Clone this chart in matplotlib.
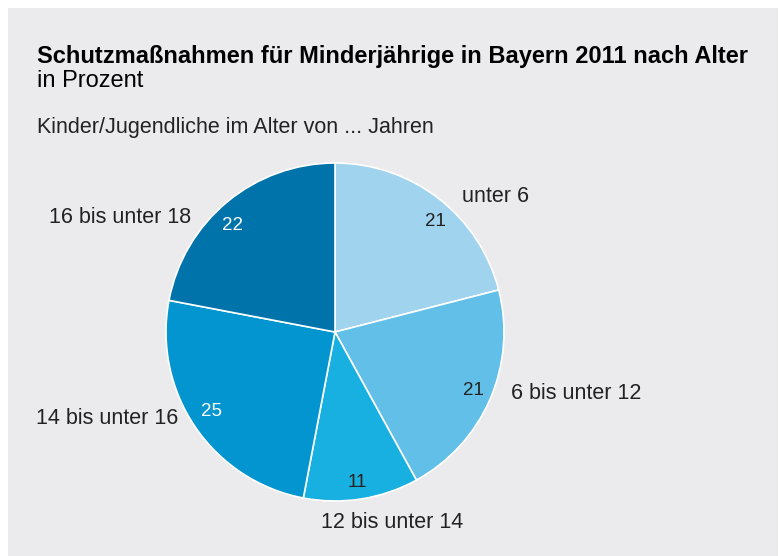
import matplotlib.pyplot as plt
from matplotlib.patches import Rectangle

categories = ["unter 6", "6 bis unter 12", "12 bis unter 14", "14 bis unter 16", "16 bis unter 18"]
values = [21, 21, 11, 25, 22]
colors = ["#9fd3ee", "#62bfe7", "#17b0e0", "#0295cf", "#0073aa"]
pct_colors = ["#222222", "#222222", "#222222", "white", "white"]

# label positions in pie units (radius = 1)
label_pos = [(0.947, 0.80), (1.426, -0.361), (0.337, -1.13), (-1.349, -0.509), (-1.272, 0.680)]
value_pos = [(0.592, 0.651), (0.817, -0.349), (0.130, -0.888), (-0.728, -0.473), (-0.609, 0.633)]

W, H = 779, 556
plt.rcParams["font.family"] = ["Liberation Sans", "DejaVu Sans"]

fig = plt.figure(figsize=(W / 100, H / 100), dpi=100)
fig.patch.set_facecolor("white")
bg = Rectangle((8 / W, 0), 1 - 9 / W, 1 - 8 / H, transform=fig.transFigure,
               facecolor="#ebebed", edgecolor="none", zorder=-10)
fig.add_artist(bg)

fig.text(37 / W, 1 - 56 / H, "Schutzmaßnahmen für Minderjährige in Bayern 2011 nach Alter",
         fontsize=17, fontweight="bold", color="black", va="center", ha="left")
fig.text(37 / W, 1 - 81 / H, "in Prozent", fontsize=17, color="black", va="center", ha="left")
fig.text(37 / W, 1 - 128 / H, "Kinder/Jugendliche im Alter von ... Jahren",
         fontsize=15.5, color="#222222", va="center", ha="left")

cx, cy, r = 335, 332, 169
ax = fig.add_axes([(cx - r) / W, (H - cy - r) / H, 2 * r / W, 2 * r / H])
ax.set_facecolor("none")
wedges, texts = ax.pie(values, colors=colors, startangle=90, counterclock=False, radius=1,
                       wedgeprops={"edgecolor": "white", "linewidth": 1.2})
ax.set_xlim(-1, 1)
ax.set_ylim(-1, 1)
ax.axis("off")

for i, v in enumerate(values):
    vx, vy = value_pos[i]
    ax.text(vx, vy, str(v), ha="center", va="center",
            fontsize=13.5, color=pct_colors[i], clip_on=False)
    lx, ly = label_pos[i]
    ax.text(lx, ly, categories[i], ha="center", va="center", fontsize=15.5,
            color="#222222", clip_on=False)

fig.savefig("out.png", dpi=100)
